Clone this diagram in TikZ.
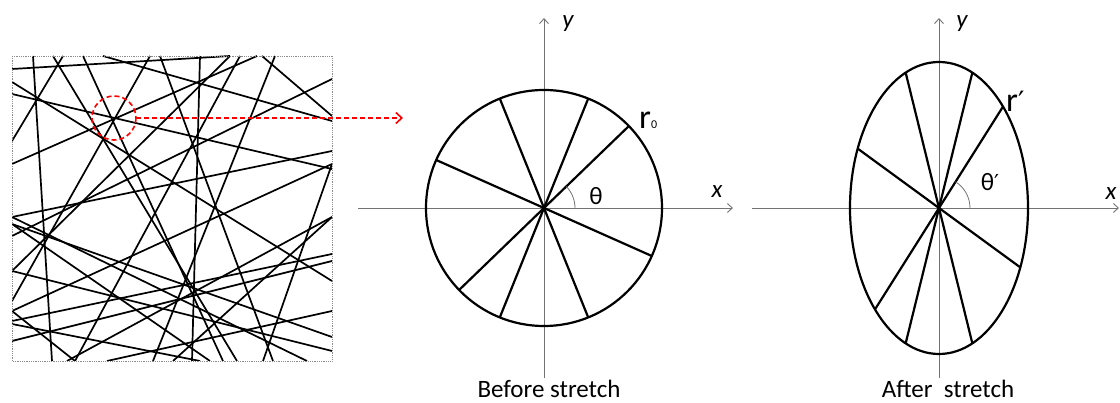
\documentclass[tikz,border=0pt]{standalone}
\usepackage{fontspec}
\setmainfont{Carlito}
\newfontfamily\symfont{DejaVu Sans}
\usetikzlibrary{arrows.meta,positioning,calc}
\tikzset{
  fib/.style={line width=1.7pt,black},
  rim/.style={line width=2.2pt,black},
  ax/.style={line width=0.9pt,black!55,-{Straight Barb[length=5pt,width=9pt]}},
  angarc/.style={line width=0.8pt,black!55},
  lbl/.style={font=\fontsize{25}{26}\selectfont,inner sep=0pt},
  axl/.style={font=\fontsize{25}{26}\selectfont\itshape,inner sep=0pt},
  rl/.style={font=\fontsize{34}{34}\selectfont,inner sep=0pt},
  captxt/.style={font=\fontsize{25}{27}\selectfont,inner sep=0pt,anchor=base},
  zoomc/.style={red,line width=1.6pt,dash pattern=on 5pt off 3pt},
}
\newcommand{\prm}[1]{{\symfont\fontsize{#1}{#1}\selectfont ′}}
\begin{document}
\begin{tikzpicture}[x=1pt,y=-1pt]
\useasboundingbox (0,0) rectangle (1120,403);
% fibre network
\begin{scope}
 \clip (12,56) rectangle (332,361);
 \foreach \xa/\ya/\xb/\yb in {12/69/230/56, 33/56/52/361, 200/56/192/361, 12/94/332/169, 83/56/223/361,
   150/56/12/301, 12/164/257/56, 63/56/12/141, 53/56/237/361, 103/56/332/121, 160/56/273/361,
   230/56/12/271, 275/56/153/361, 262/56/332/116, 332/79/12/236, 12/82/332/281, 12/217/332/151,
   12/224/332/337, 12/311/332/164, 12/321/332/254, 12/324/200/361, 12/341/332/261, 67/361/332/217,
   75/361/240/56, 75/361/12/311, 107/361/332/311, 173/361/332/217, 210/361/12/224, 263/361/332/164,
   307/361/12/217, 12/271/332/351}
  {\draw[fib] (\xa,\ya) -- (\xb,\yb);}
\end{scope}
\draw[densely dotted,black!45,line width=0.8pt] (12,56) rectangle (332,361);
% zoom marker
\coordinate (z) at (114,118); \coordinate (zt) at (403,118);
\draw[zoomc] (z) circle[radius=22];
\draw[zoomc,-{Straight Barb[length=6pt,width=11pt]}] ($(z)+(22,0)$) -- (zt);
% before stretch
\coordinate (o1) at (544,208);
\draw[ax] (358,208) -- (733,208); \draw[ax] (544,378) -- (544,18);
\draw[rim] (o1) circle[radius=118];
\foreach \t in {44,68,112,156}{\draw[rim] ($(o1)+(-\t:118)$) -- ($(o1)+(180-\t:118)$);}
\draw[angarc] ($(o1)+(31,0)$) arc[start angle=0,end angle=-44,radius=31];
\node[axl] (ya) at (568,24) {y}; \node[axl] (xa) at (717,192) {x};
\node[lbl] (th) at (596,196) {θ};
\node[rl,anchor=base west] (r0) at (639,129) {r{\fontsize{12}{12}\selectfont 0}};
\node[captxt] (bs) at (549,398) {Before stretch};
% after stretch
\coordinate (o2) at (939,208);
\draw[ax] (752,208) -- (1119,208); \draw[ax] (939,378) -- (939,18);
\draw[rim] (o2) ellipse[x radius=89,y radius=146];
\foreach \t in {44,68,112,156}{\draw[rim] ($(o2)+({89*cos(\t)},{-146*sin(\t)})$) -- ($(o2)+({-89*cos(\t)},{146*sin(\t)})$);}
\draw[angarc] ($(o2)+(31,0)$) arc[start angle=0,end angle=-58,radius=31];
\node[axl] (yb) at (962,24) {y}; \node[axl] (xb) at (1111,194) {x};
\node[lbl] (thb) at (990,182) {θ\prm{22}};
\node[rl,anchor=base west] (rb) at (1006,112) {r\prm{28}};
\node[captxt] (as) at (948,398) {After\ \ stretch};
\end{tikzpicture}
\end{document}
